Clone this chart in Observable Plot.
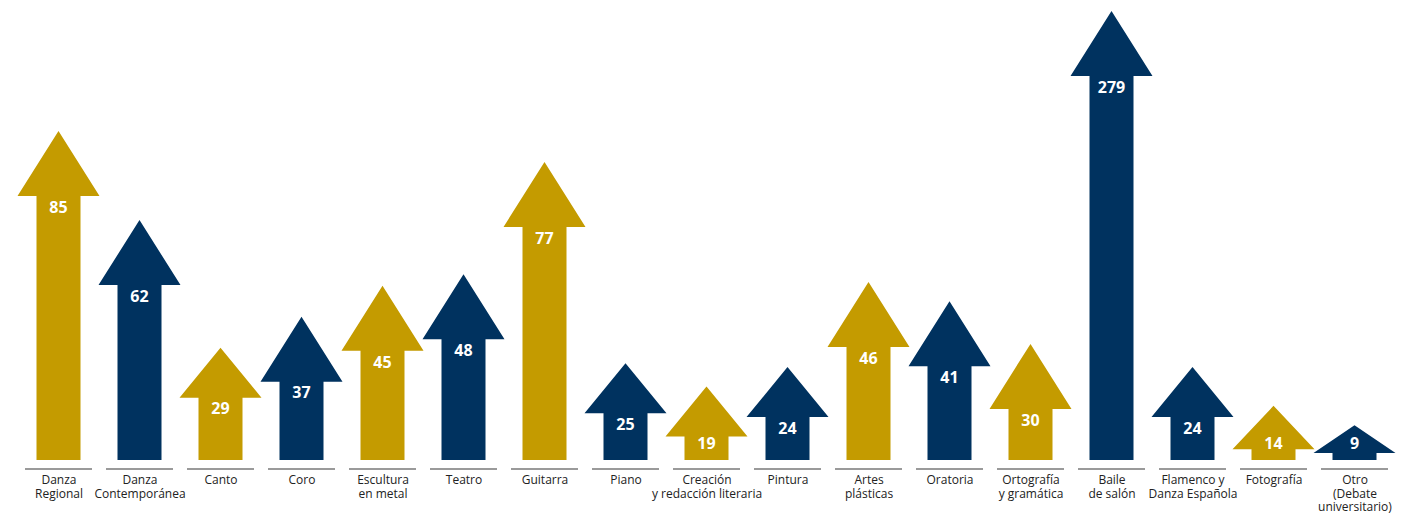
<!DOCTYPE html>
<html>
<head>
<meta charset="utf-8">
<script src="https://cdn.jsdelivr.net/npm/d3@7"></script>
<script src="https://cdn.jsdelivr.net/npm/@observablehq/plot@0.6"></script>
<style>
  html, body { margin: 0; padding: 0; background: #ffffff; }
  #chart svg { display: block; }
</style>
</head>
<body>
<div id="chart"></div>
<script>
// Categories (tick labels, with the original line breaks)
const categories = [
  "Danza\nRegional",
  "Danza\nContemporánea",
  "Canto",
  "Coro",
  "Escultura\nen metal",
  "Teatro",
  "Guitarra",
  "Piano",
  "Creación\ny redacción literaria",
  "Pintura",
  "Artes\nplásticas",
  "Oratoria",
  "Ortografía\ny gramática",
  "Baile\nde salón",
  "Flamenco y\nDanza Española",
  "Fotografía",
  "Otro\n(Debate\nuniversitario)"
];
// Values (number of participants)
const values = [85, 62, 29, 37, 45, 48, 77, 25, 19, 24, 46, 41, 30, 279, 24, 14, 9];
// Colour group of each arrow
const groups = ["A", "B", "A", "B", "A", "B", "A", "B", "A", "B", "A", "B", "A", "B", "B", "A", "B"];

const data = categories.map((category, i) => ({category, value: values[i], group: groups[i]}));

// Custom render mark: draws each arrow, its value and the grey base line
function arrows(index, scales) {
  const x = scales.x, y = scales.y, color = scales.color;
  const bw = typeof x.bandwidth === "function" ? x.bandwidth() : x.bandwidth;
  const y0 = y(0);
  const headHalf = 41, shaftHalf = 22;
  const g = d3.create("svg:g");
  for (const d of data) {
    const cx = x(d.category) + bw / 2;
    const yTop = y(d.value);
    const len = y0 - yTop;
    const head = d.value >= 30 ? 65 : Math.min(50, 0.8 * len);
    const yb = yTop + head;
    const pts = [
      [cx, yTop], [cx + headHalf, yb], [cx + shaftHalf, yb], [cx + shaftHalf, y0],
      [cx - shaftHalf, y0], [cx - shaftHalf, yb], [cx - headHalf, yb]
    ];
    g.append("path")
      .attr("d", "M" + pts.map(p => p.join(",")).join("L") + "Z")
      .attr("fill", color(d.group));
    const ty = Math.min(yb + 11, y0 - 17);
    g.append("text")
      .attr("x", cx)
      .attr("y", ty + 5.7)
      .attr("text-anchor", "middle")
      .attr("fill", "#ffffff")
      .attr("font-weight", 700)
      .attr("font-size", 16)
      .text(d.value);
    g.append("line")
      .attr("x1", cx - 33.5).attr("x2", cx + 33.5)
      .attr("y1", y0 + 9).attr("y2", y0 + 9)
      .attr("stroke", "#9a9a9a")
      .attr("stroke-width", 2.2);
  }
  return g.node();
}

const chart = Plot.plot({
  width: 1402,
  height: 513,
  marginLeft: 17.5,
  marginRight: 6.5,
  marginTop: 11,
  marginBottom: 53,
  style: {fontFamily: "'Open Sans', sans-serif", fontSize: "12px", color: "#222", background: "#ffffff"},
  x: {domain: categories, padding: 0, label: null},
  y: {domain: [0, 116], clamp: true, axis: null},
  color: {domain: ["A", "B"], range: ["#c49b00", "#00325f"]},
  marks: [
    Plot.barY(data, {x: "category", y: "value", fill: "group", fillOpacity: 0}),
    arrows,
    Plot.axisX({tickSize: 0, tickPadding: 14, fontSize: 12, lineHeight: 1.13, label: null, color: "#222"})
  ]
});
document.getElementById("chart").appendChild(chart);
</script>
</body>
</html>
